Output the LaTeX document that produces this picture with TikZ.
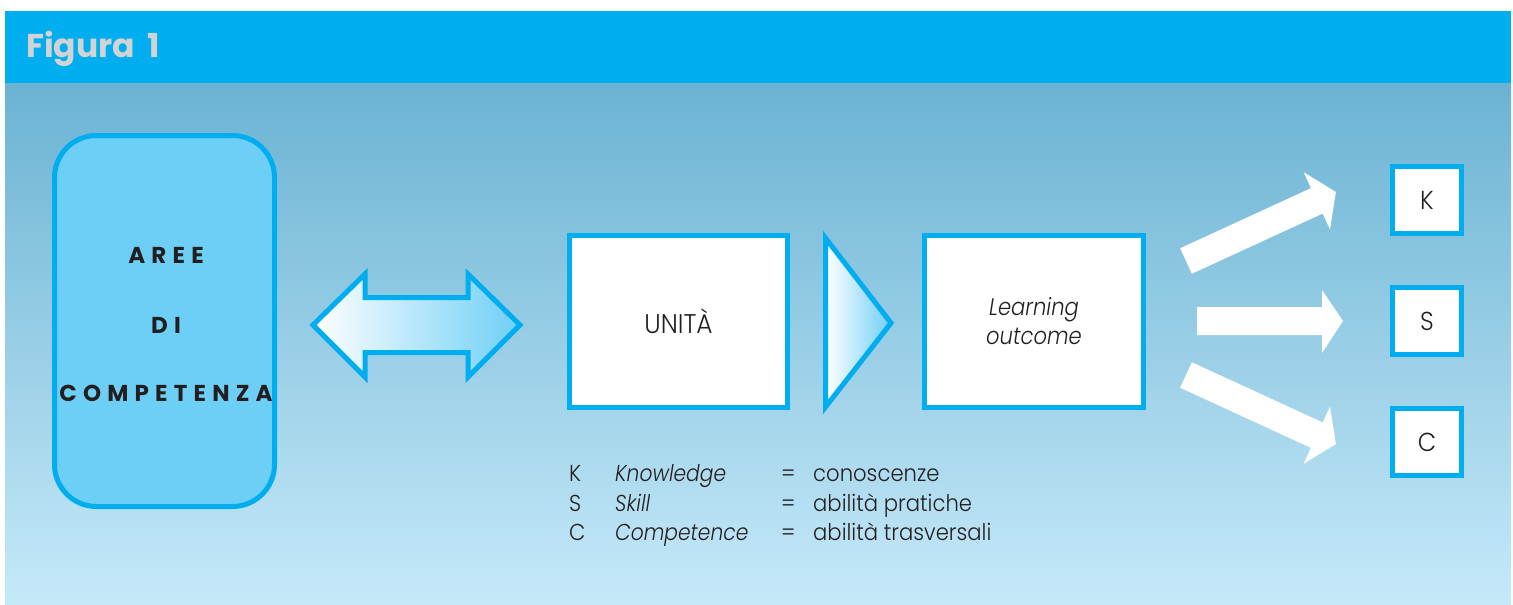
\documentclass[tikz,border=0pt]{standalone}
\usepackage{fontspec}
\setmainfont{Poppins}[UprightFont=* Light, ItalicFont=* Light Italic, BoldFont=* SemiBold,
  UprightFeatures={FakeStretch=0.92}, ItalicFeatures={FakeStretch=0.88}]
\newfontfamily\headfont{Poppins}[UprightFont=* Bold]
\newfontfamily\spacedfont{Poppins}[UprightFont=* Bold, LetterSpace=27]
\usetikzlibrary{shapes.geometric}
\definecolor{cyanb}{HTML}{00AEEF}
\definecolor{areefill}{HTML}{6DCFF6}
\definecolor{bgtop}{HTML}{6BB3D3}
\definecolor{bgbot}{HTML}{C6E9F9}
\definecolor{txt}{HTML}{231F20}
\definecolor{figgrey}{HTML}{D1D3D4}
\definecolor{shadeend}{HTML}{6FCFF5}
\tikzset{
  bluebox/.style={draw=cyanb, line width=5pt, fill=white, inner sep=0pt, text=txt,
    font=\fontsize{23}{29}\selectfont, align=center},
  areebox/.style={draw=cyanb, line width=5pt, fill=areefill, rounded corners=42pt, inner sep=0pt},
  areetext/.style={font=\spacedfont\fontsize{23}{23}\selectfont, text=txt, inner sep=0pt, anchor=base},
  legend/.style={font=\fontsize{23}{23}\selectfont, text=txt, inner sep=0pt, anchor=base west},
  shadedshape/.style={draw=cyanb, line width=5pt, left color=white, right color=shadeend, line join=miter},
  whitearrow/.style={fill=white, draw=none}
}
\begin{document}
\begin{tikzpicture}[x=1pt,y=-1pt]
\fill[white] (0,0) rectangle (1513,605);
\useasboundingbox (0,0) rectangle (1513,605);
% header and background
\fill[cyanb] (5,11) rectangle (1511,83);
\shade[top color=bgtop, bottom color=bgbot] (5,83) rectangle (1511,605);
\node[anchor=base west, font=\headfont\fontsize{33}{33}\selectfont, text=figgrey, inner sep=0pt] (title) at (26,57) {Figura\hspace{12pt}1};
% AREE box
\node[areebox, minimum width=220pt, minimum height=371pt] (aree) at (164.5,321) {};
\node[areetext] (t1) at (166,263) {AREE};
\node[areetext] (t2) at (166,333) {DI};
\node[areetext] (t3) at (166,401) {COMPETENZA};
% double arrow
\path[shadedshape] (313,325) -- (365,274) -- (365,297.5) -- (468,297.5) -- (468,274) -- (520,325)
  -- (468,377) -- (468,352.5) -- (365,352.5) -- (365,377) -- cycle;
% unita box
\node[bluebox, minimum width=218pt, minimum height=172pt, font=\fontsize{27}{27}\selectfont] (unita) at (678.5,321.5) {UNITÀ};
% triangle
\path[shadedshape] (825.5,238) -- (891,323) -- (825.5,407) -- cycle;
% learning outcome box
\node[bluebox, minimum width=219pt, minimum height=172pt, font=\fontsize{24}{29}\selectfont] (lo) at (1034,321.5) {\itshape Learning\\\itshape outcome};
% KSC boxes
\node[bluebox, minimum width=69pt, minimum height=67pt, font=\fontsize{26}{26}\selectfont] (k) at (1427,200) {K};
\node[bluebox, minimum width=69pt, minimum height=67pt, font=\fontsize{26}{26}\selectfont] (s) at (1427,321) {S};
\node[bluebox, minimum width=69pt, minimum height=67pt, font=\fontsize{26}{26}\selectfont] (c) at (1427,442) {C};
% white arrows
\fill[whitearrow, shift={(1186,261)}, rotate=24.7] (0,-14) -- (144,-14) -- (144,-31.5) -- (165,0) -- (144,31.5) -- (144,14) -- (0,14) -- cycle;
\fill[whitearrow] (1197,307) -- (1322,307) -- (1322,290) -- (1343,321) -- (1322,353) -- (1322,335) -- (1197,335) -- cycle;
\fill[whitearrow, shift={(1186,375)}, rotate=-24.7] (0,-14) -- (144,-14) -- (144,-31.5) -- (165,0) -- (144,31.5) -- (144,14) -- (0,14) -- cycle;
% legend
\node[legend] (l1a) at (569,481) {K};
\node[legend] (l1b) at (615,481) {\itshape Knowledge};
\node[legend] (l1c) at (781,481) {=};
\node[legend] (l1d) at (813,481) {conoscenze};
\node[legend] (l2a) at (569,511) {S};
\node[legend] (l2b) at (615,511) {\itshape Skill};
\node[legend] (l2c) at (781,511) {=};
\node[legend] (l2d) at (813,511) {abilità pratiche};
\node[legend] (l3a) at (569,540) {C};
\node[legend] (l3b) at (615,540) {\itshape Competence};
\node[legend] (l3c) at (781,540) {=};
\node[legend] (l3d) at (813,540) {abilità trasversali};
\end{tikzpicture}
\end{document}
